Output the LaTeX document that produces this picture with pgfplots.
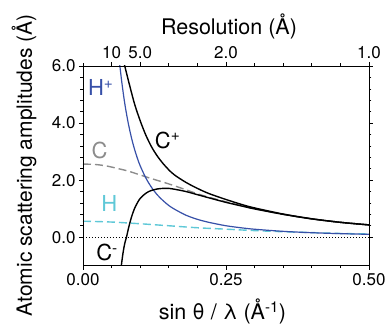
\documentclass[border=0pt]{standalone}
\usepackage{fontspec}
\setmainfont{TeX Gyre Heros}
\usepackage{pgfplots}
\pgfplotsset{compat=1.18}
\definecolor{hplus}{RGB}{55,80,168}
\definecolor{hcyan}{RGB}{95,200,215}
\definecolor{cgray}{RGB}{140,140,140}
\begin{document}
\begin{tikzpicture}
\begin{axis}[
  at={(0pt,0pt)}, anchor=south west,
  scale only axis, width=286pt, height=199.7pt,
  xmin=0, xmax=0.5, ymin=-1, ymax=6,
  xtick={0,0.25,0.5}, xticklabels={0.00,0.25,0.50},
  minor x tick num=4,
  xtick pos=bottom,
  ytick={0,2,4,6}, yticklabels={0.0,2.0,4.0,6.0},
  minor y tick num=4,
  ytick pos=both, yticklabel pos=left,
  tick align=outside,
  major tick length=4pt, minor tick length=2.5pt,
  tick style={black, line width=0.6pt},
  axis line style={line width=0.8pt},
  tick label style={font=\fontsize{17}{20}\selectfont},
  clip=true,
]
\addplot[black, dash pattern=on 1pt off 2pt, line width=0.9pt] coordinates {(0,0) (0.5,0)};
% C neutral (gray dashed)
\addplot[cgray, line width=1.4pt, dash pattern=on 8pt off 4pt, smooth] coordinates {
(0.00,2.56) (0.02,2.55) (0.04,2.50) (0.06,2.41) (0.08,2.31) (0.10,2.18) (0.12,2.05)
(0.14,1.93) (0.16,1.80) (0.18,1.66) (0.20,1.52) (0.22,1.40) (0.25,1.24) (0.28,1.09)
(0.30,1.00) (0.35,0.80) (0.40,0.64) (0.45,0.52) (0.50,0.43)};
% H neutral (cyan dashed)
\addplot[hcyan, line width=1.4pt, dash pattern=on 8pt off 4pt, smooth] coordinates {
(0.00,0.56) (0.05,0.53) (0.10,0.47) (0.15,0.40) (0.20,0.33) (0.25,0.28) (0.30,0.23)
(0.35,0.19) (0.40,0.16) (0.45,0.13) (0.50,0.11)};
% H+ (blue)
\addplot[hplus, line width=1.2pt, smooth] coordinates {
(0.061,6.7) (0.0645,6.0) (0.068,5.41) (0.072,4.82) (0.076,4.33) (0.080,3.91) (0.085,3.46)
(0.090,3.09) (0.095,2.77) (0.100,2.50) (0.110,2.07) (0.120,1.74) (0.130,1.48) (0.140,1.28)
(0.150,1.11) (0.160,0.98) (0.180,0.77) (0.200,0.625) (0.220,0.52) (0.250,0.40) (0.280,0.32)
(0.300,0.278) (0.350,0.204) (0.400,0.156) (0.450,0.123) (0.500,0.10)};
% C+ (black)
\addplot[black, line width=1.4pt, smooth] coordinates {
(0.070,6.3) (0.073,6.0) (0.080,5.44) (0.090,4.68) (0.100,4.08) (0.110,3.57) (0.120,3.16)
(0.130,2.84) (0.140,2.58) (0.150,2.36) (0.160,2.18) (0.180,1.92) (0.200,1.71) (0.220,1.53)
(0.250,1.32) (0.280,1.13) (0.300,1.025) (0.350,0.81) (0.400,0.645) (0.450,0.52) (0.500,0.43)};
% C- (black)
\addplot[black, line width=1.4pt, smooth] coordinates {
(0.0655,-1.3) (0.067,-1.0) (0.070,-0.55) (0.073,-0.22) (0.076,0.0) (0.080,0.35) (0.085,0.72)
(0.090,1.00) (0.095,1.20) (0.100,1.36) (0.108,1.51) (0.115,1.60) (0.120,1.64) (0.130,1.69)
(0.140,1.71) (0.150,1.71) (0.160,1.68) (0.180,1.60) (0.200,1.49) (0.220,1.38) (0.250,1.22)
(0.280,1.08) (0.300,0.99) (0.350,0.80) (0.400,0.64) (0.450,0.52) (0.500,0.43)};
\node[hplus, font=\fontsize{22}{26}\selectfont] at (axis cs:0.031,5.23) {H\textsuperscript{+}};
\node[black, font=\fontsize{22}{26}\selectfont] at (axis cs:0.148,3.40) {C\textsuperscript{+}};
\node[cgray, font=\fontsize{22}{26}\selectfont] at (axis cs:0.029,3.05) {C};
\node[hcyan, font=\fontsize{22}{26}\selectfont] at (axis cs:0.046,1.19) {H};
\node[black, font=\fontsize{22}{26}\selectfont] at (axis cs:0.042,-0.54) {C\textsuperscript{-}};
\end{axis}
\begin{axis}[
  at={(0pt,0pt)}, anchor=south west,
  scale only axis, width=286pt, height=199.7pt,
  xmin=0, xmax=0.5, ymin=-1, ymax=6,
  xtick={0.05,0.1,0.25,0.5}, xticklabels={10,5.0,2.0,1.0},
  minor xtick={0,0.15,0.2,0.3,0.35,0.4,0.45},
  xtick pos=top, xticklabel pos=upper,
  ytick=\empty,
  tick align=outside,
  major tick length=4pt, minor tick length=2.5pt,
  tick style={black, line width=0.6pt},
  axis line style={line width=0.8pt},
  tick label style={font=\fontsize{17}{20}\selectfont},
]
\end{axis}
\node[anchor=base, font=\fontsize{21.5}{25}\selectfont] at (139.5pt,-54.3pt) {sin θ / λ (Å\textsuperscript{-1})};
\node[anchor=base, font=\fontsize{21.5}{25}\selectfont] at (146pt,230.7pt) {Resolution (Å)};
\node[anchor=base east, rotate=90, font=\fontsize{21}{25}\selectfont] at (-51pt,254.7pt) {Atomic scattering amplitudes (Å)};
\pgfresetboundingbox
\useasboundingbox (-83pt,-62.3pt) rectangle (303pt,265.7pt);
\end{tikzpicture}
\end{document}
